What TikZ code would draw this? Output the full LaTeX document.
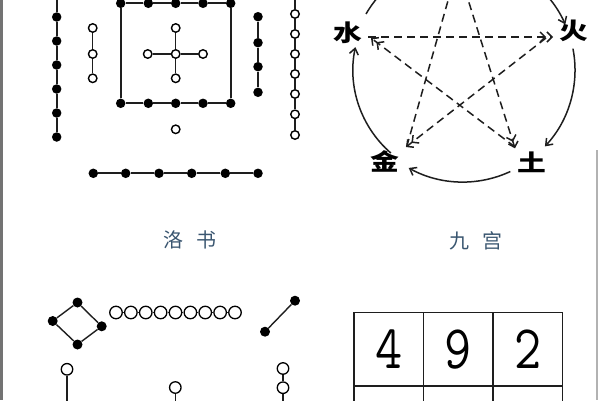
\documentclass[tikz,border=0pt]{standalone}
\usepackage{fontspec}
\newfontfamily\cjk{Noto Sans CJK SC}
\usetikzlibrary{arrows.meta}
\definecolor{capblue}{HTML}{3A5670}
\definecolor{ink}{HTML}{1E1E1E}
\begin{document}
\begin{tikzpicture}[x=1pt,y=-1pt,
  bdot/.style={circle,fill=black,inner sep=0pt,minimum size=9.5pt},
  wdot/.style={circle,draw=black,fill=white,line width=1.4pt,inner sep=0pt,minimum size=8.5pt},
  bigw/.style={wdot,minimum size=11.5pt,line width=1.3pt},
  rod/.style={draw=ink,line width=2pt},
  thinrod/.style={draw=ink,line width=1.4pt},
  elem/.style={font=\cjk\bfseries\fontsize{23}{23}\selectfont,inner sep=1pt,xscale=1.25},
  captext/.style={font=\cjk\fontsize{20}{20}\selectfont,text=capblue,inner sep=0pt},
  arcline/.style={draw=ink,line width=1.5pt,-{Straight Barb[length=6pt,width=9pt]}},
  star/.style={draw=ink,line width=1.5pt,dash pattern=on 8pt off 5pt},
  startip/.style={-{Straight Barb[length=5pt,width=10pt]Straight Barb[length=5pt,width=10pt]}},
  cell/.style={draw=ink,line width=1.5pt,minimum width=69.4pt,minimum height=73.3pt,inner sep=0pt},
  digit/.style={font=\ttfamily\fontsize{62}{62}\selectfont,inner sep=0pt,xscale=0.85}]
\useasboundingbox (0,0) rectangle (600,400);
\clip (0,0) rectangle (600,400);
% frame lines
\fill[black!55] (0,0) rectangle (3,400);
\fill[black!30] (595.5,150) rectangle (597.5,400);

% ---------- top-left: dot diagram ----------
\foreach \i/\y in {1/17,2/41,3/65,4/89,5/113,6/137} \node[bdot] (L\i) at (56.7,\y) {};
\coordinate (Ltop) at (56.7,-6);
\draw[rod] (Ltop) -- (L1) -- (L2) -- (L3) -- (L4) -- (L5) -- (L6);

\foreach \i/\y in {1/28,2/54,3/78.3} \node[wdot] (S\i) at (92.7,\y) {};
\draw[thinrod] (S1) -- (S2) -- (S3);

\foreach \i/\x in {1/120.7,2/148.3,3/175.7,4/203,5/230.7} {
  \node[bdot] (T\i) at (\x,3.3) {};
  \node[bdot] (B\i) at (\x,103.3) {};
}
\draw[rod] (T1) -- (T2) -- (T3) -- (T4) -- (T5) -- (B5) -- (B4) -- (B3) -- (B2) -- (B1) -- (T1);

\node[wdot] (X0) at (175.7,54) {};
\node[wdot] (Xn) at (175.7,28) {};
\node[wdot] (Xs) at (175.7,78.3) {};
\node[wdot] (Xw) at (147.7,54) {};
\node[wdot] (Xe) at (203,54) {};
\draw[thinrod] (Xn) -- (X0) -- (Xs);
\draw[thinrod] (Xw) -- (X0) -- (Xe);

\node[wdot] (P) at (175.7,129.3) {};

\foreach \i/\y in {1/16.7,2/42.7,3/66.7,4/92.3} \node[bdot] (R\i) at (258,\y) {};
\draw[rod] (R1) -- (R2) -- (R3) -- (R4);

\foreach \i/\y in {1/14,2/34,3/54,4/74,5/94,6/114.3,7/135} \node[wdot] (H\i) at (295,\y) {};
\coordinate (Htop) at (295,-6);
\draw[thinrod] (Htop) -- (H1) -- (H2) -- (H3) -- (H4) -- (H5) -- (H6) -- (H7);

\foreach \i/\x in {1/93.3,2/125.7,3/159,4/191.7,5/225.3,6/258} \node[bdot] (D\i) at (\x,173.3) {};
\draw[rod] (D1) -- (D2) -- (D3) -- (D4) -- (D5) -- (D6);

% ---------- top-right: five elements ----------
\node[elem] (shui) at (347.5,32.5) {水};
\node[elem] (huo) at (574,31) {火};
\node[elem] (jin) at (385,161.7) {金};
\node[elem] (tu) at (531.5,162.3) {土};

\coordinate (C) at (463,70);
\draw[arcline] ([shift={(-80:112)}]C) arc[start angle=-80,end angle=-24,radius=112];
\draw[arcline] ([shift={(-11:112)}]C) arc[start angle=-11,end angle=43,radius=112];
\draw[arcline] ([shift={(65:112)}]C) arc[start angle=65,end angle=119,radius=112];
\draw[arcline] ([shift={(131:110)}]C) arc[start angle=131,end angle=192,radius=110];
\draw[arcline] ([shift={(210:112)}]C) arc[start angle=210,end angle=260,radius=112];

\coordinate (s1a) at (368,37);   \coordinate (s1b) at (553,37);
\coordinate (s2a) at (515,147);  \coordinate (s2b) at (371,38);
\coordinate (s3a) at (546,38);   \coordinate (s3b) at (406,147);
\coordinate (s4a) at (465,-10);  \coordinate (s4b) at (515,148.3);
\coordinate (s5a) at (406.7,146.7); \coordinate (s5b) at (451,-10);
\draw[star,startip] (s1a) -- (s1b);
\draw[star,startip] (s2a) -- (s2b);
\draw[star,startip] (s3a) -- (s3b);
\draw[star,startip] (s4a) -- (s4b);
\draw[star] (s5a) -- (s5b);

% ---------- captions ----------
\node[captext] (luoshu) at (190,240) {洛\hspace{13pt}书};
\node[captext] (jiugong) at (476,241) {九\hspace{13pt}宫};

% ---------- bottom-left ----------
\node[bdot,minimum size=10pt] (Q1) at (77.5,302.5) {};
\node[bdot,minimum size=10pt] (Q2) at (52.7,321) {};
\node[bdot,minimum size=10pt] (Q3) at (101.7,326.3) {};
\node[bdot,minimum size=10pt] (Q4) at (77.5,344.5) {};
\draw[thinrod] (Q2) -- (Q1) -- (Q3) -- (Q4) -- (Q2);

\foreach \i in {1,...,9} \node[bigw,minimum size=12.5pt] (W\i) at ({116+(\i-1)*14.875},312.5) {};
\draw[thinrod] (W1) -- (W2) -- (W3) -- (W4) -- (W5) -- (W6) -- (W7) -- (W8) -- (W9);

\node[bdot,minimum size=10pt] (E1) at (295,300.7) {};
\node[bdot,minimum size=10pt] (E2) at (265,331.7) {};
\draw[thinrod] (E2) -- (E1);

\node[bigw] (F1) at (67,369.3) {};
\coordinate (F0) at (67,406);
\draw[thinrod] (F1) -- (F0);
\node[bigw] (G1) at (175.3,387.5) {};
\coordinate (G0) at (175.3,406);
\draw[thinrod] (G1) -- (G0);
\node[bigw] (K1) at (283,368.5) {};
\node[bigw] (K2) at (283,387.7) {};
\coordinate (K0) at (283,406);
\draw[thinrod] (K1) -- (K2) -- (K0);

% ---------- bottom-right: grid ----------
\node[cell] (c1) at (388.65,349.35) {};
\node[cell] (c2) at (458,349.35) {};
\node[cell] (c3) at (527.7,349.35) {};
\node[cell] (c4) at (388.65,422.65) {};
\node[cell] (c5) at (458,422.65) {};
\node[cell] (c6) at (527.7,422.65) {};
\node[digit] (d4) at (c1.center) {4};
\node[digit] (d9) at (c2.center) {9};
\node[digit] (d2) at (c3.center) {2};
\end{tikzpicture}
\end{document}
